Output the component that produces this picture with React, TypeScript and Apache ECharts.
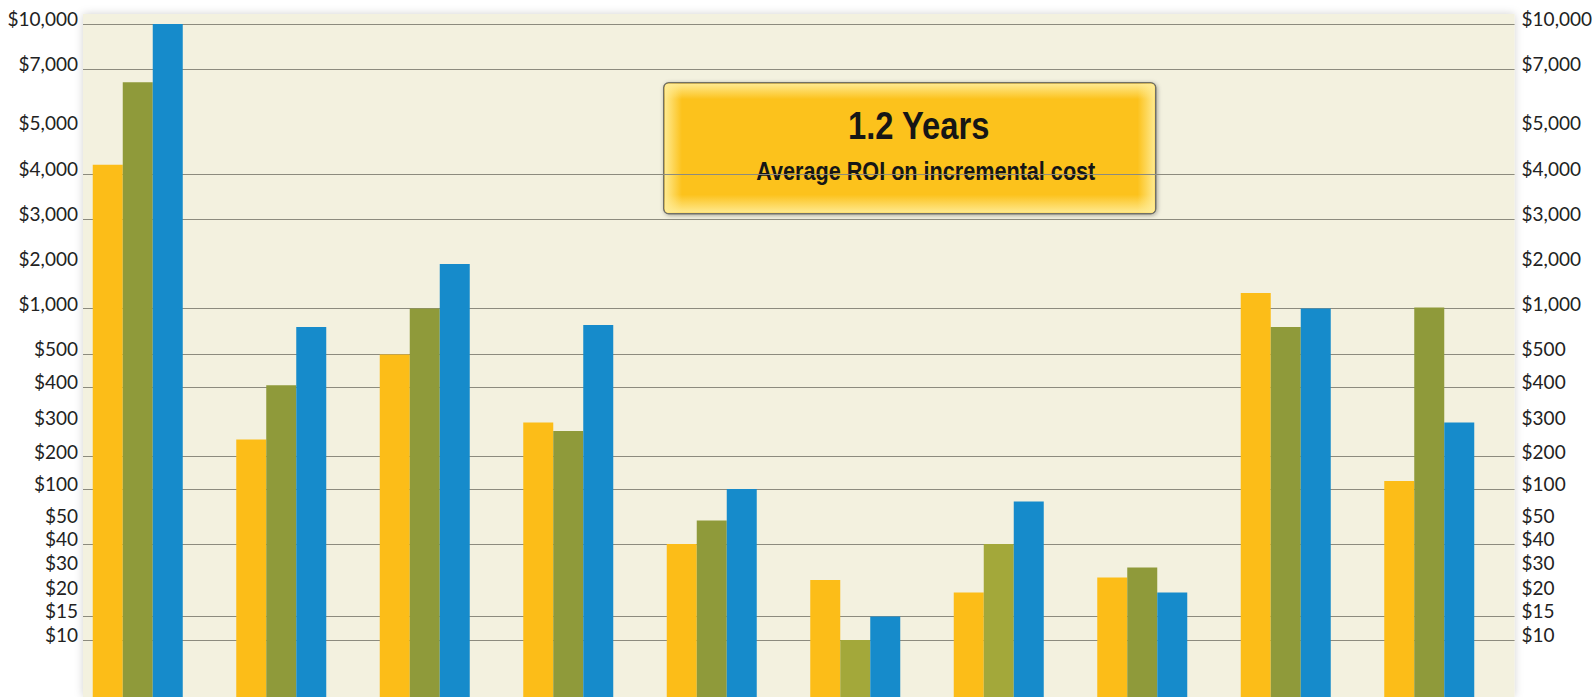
import { useEffect, useRef } from "react";
import * as echarts from "echarts";

// ---- Data ----
const CATEGORIES = ["Group 1", "Group 2", "Group 3", "Group 4", "Group 5", "Group 6", "Group 7", "Group 8", "Group 9", "Group 10"];
const SERIES_NAMES = ["Series A", "Series B", "Series C"];
const YELLOW_VALUES = [4200, 250, 500, 300, 40, 25, 20, 26, 1350, 125];
const GREEN_VALUES = [6550, 405, 1000, 275, 50, 10, 40, 30, 800, 1020];
const BLUE_VALUES = [10000, 800, 2000, 820, 100, 15, 80, 20, 1000, 300];
const LIGHT_GREEN_INDEXES = [5, 6];

// Tick values of the chart's non-uniform dollar scale, and where each sits on it (0..100 scale units)
const TICK_VALUES = [10, 15, 20, 30, 40, 50, 100, 200, 300, 400, 500, 1000, 2000, 3000, 4000, 5000, 7000, 10000];
const TICK_SCALE = [8.35, 11.79, 15.3, 18.96, 22.4, 25.84, 30.45, 35.21, 40.19, 45.39, 50.15, 56.88, 63.4, 69.99, 76.57, 83.31, 91.95, 98.54];
const GRIDLINE_VALUES = [10, 15, 40, 100, 200, 400, 500, 1000, 3000, 4000, 7000, 10000];

const BOX_TITLE = "1.2 Years";
const BOX_SUBTITLE = "Average ROI on incremental cost";

// piecewise-linear mapping of a dollar value onto the custom scale
function toScale(v: number): number {
  const vals = [0, ...TICK_VALUES];
  const pos = [0, ...TICK_SCALE];
  for (let i = 1; i < vals.length; i++) {
    if (v <= vals[i]) {
      const t = (v - vals[i - 1]) / (vals[i] - vals[i - 1]);
      return pos[i - 1] + t * (pos[i] - pos[i - 1]);
    }
  }
  return pos[pos.length - 1];
}

function labelFor(p: number): string {
  let best = 0;
  let bd = Infinity;
  TICK_SCALE.forEach((s, i) => {
    const d = Math.abs(s - p);
    if (d < bd) {
      bd = d;
      best = i;
    }
  });
  return "$" + TICK_VALUES[best].toLocaleString("en-US");
}

const YELLOW = "#FCBD18";
const GREEN = "#8F9A3A";
const LIGHT_GREEN = "#A3A83A";
const BLUE = "#168BCB";

export default function App() {
  const ref = useRef<HTMLDivElement>(null);
  useEffect(() => {
    if (!ref.current) return;
    const chart = echarts.init(ref.current, undefined, { renderer: "svg" });
    const labelPos = TICK_VALUES.map(toScale);
    const gridPos = GRIDLINE_VALUES.map(toScale);
    const labelStyle = {
      customValues: labelPos,
      formatter: (v: number) => labelFor(v),
      color: "#222",
      fontFamily: "Lato",
      fontSize: 19,
      lineHeight: 11,
      verticalAlign: "bottom",
    };
    const option: any = {
      animation: false,
      backgroundColor: "#ffffff",
      grid: [
        {
          left: 83,
          right: 79,
          top: 14,
          bottom: 0,
          show: true,
          backgroundColor: "#F3F1DF",
          borderWidth: 0,
          shadowBlur: 8,
          shadowColor: "rgba(0,0,0,0.18)",
        },
        { left: 66, right: 94, top: 14, bottom: 0 },
      ],
      xAxis: [
        { gridIndex: 0, type: "value", min: 0, max: 1, show: false },
        { gridIndex: 1, type: "category", data: CATEGORIES, show: false },
      ],
      yAxis: [
        {
          gridIndex: 0,
          type: "value",
          min: 0,
          max: 100,
          position: "left",
          axisLine: { show: false },
          axisTick: { show: false, customValues: gridPos },
          splitLine: { show: true, lineStyle: { color: "#8c8b7e", width: 1.2 } },
          axisLabel: { ...labelStyle, margin: 5 },
        },
        {
          gridIndex: 0,
          type: "value",
          min: 0,
          max: 100,
          position: "right",
          axisLine: { show: false },
          axisTick: { show: false, customValues: gridPos },
          splitLine: { show: false },
          axisLabel: { ...labelStyle, margin: 7 },
        },
        { gridIndex: 1, type: "value", min: 0, max: 100, show: false },
      ],
      series: [
        { type: "line", xAxisIndex: 0, yAxisIndex: 0, data: [], silent: true },
        {
          name: SERIES_NAMES[0],
          type: "bar",
          xAxisIndex: 1,
          yAxisIndex: 2,
          barWidth: 30,
          barGap: "0%",
          itemStyle: { color: YELLOW },
          data: YELLOW_VALUES.map(toScale),
        },
        {
          name: SERIES_NAMES[1],
          type: "bar",
          xAxisIndex: 1,
          yAxisIndex: 2,
          barWidth: 30,
          barGap: "0%",
          itemStyle: { color: GREEN },
          data: GREEN_VALUES.map((v, i) =>
            LIGHT_GREEN_INDEXES.includes(i) ? { value: toScale(v), itemStyle: { color: LIGHT_GREEN } } : toScale(v)
          ),
        },
        {
          name: SERIES_NAMES[2],
          type: "bar",
          xAxisIndex: 1,
          yAxisIndex: 2,
          barWidth: 30,
          barGap: "0%",
          itemStyle: { color: BLUE },
          data: BLUE_VALUES.map(toScale),
        },
      ],
      graphic: [
        {
          type: "group",
          left: 663,
          top: 82,
          z: 100,
          children: [
            {
              type: "rect",
              shape: { x: 0, y: 0, width: 492, height: 131, r: 5 },
              style: {
                fill: "#FCC21F",
                stroke: "#6f6f66",
                lineWidth: 1.5,
                shadowBlur: 4,
                shadowColor: "rgba(0,0,0,0.3)",
                shadowOffsetX: 1,
                shadowOffsetY: 1,
              },
            },
            {
              type: "rect",
              shape: { x: 1, y: 1, width: 490, height: 129, r: 4 },
              style: {
                fill: new echarts.graphic.LinearGradient(0, 0, 0, 1, [
                  { offset: 0, color: "rgba(255,236,150,0.95)" },
                  { offset: 0.12, color: "rgba(255,236,150,0)" },
                  { offset: 0.86, color: "rgba(255,236,150,0)" },
                  { offset: 1, color: "rgba(255,236,150,0.95)" },
                ]),
              },
            },
            {
              type: "rect",
              shape: { x: 1, y: 1, width: 490, height: 129, r: 4 },
              style: {
                fill: new echarts.graphic.LinearGradient(0, 0, 1, 0, [
                  { offset: 0, color: "rgba(255,236,150,0.95)" },
                  { offset: 0.035, color: "rgba(255,236,150,0)" },
                  { offset: 0.965, color: "rgba(255,236,150,0)" },
                  { offset: 1, color: "rgba(255,236,150,0.95)" },
                ]),
              },
            },
            {
              type: "text",
              x: 255,
              y: 43,
              scaleX: 0.84,
              style: {
                text: BOX_TITLE,
                x: 0,
                y: 0,
                align: "center",
                verticalAlign: "middle",
                fill: "#161616",
                fontFamily: "Liberation Sans",
                fontWeight: "bold",
                fontSize: 39,
              },
            },
            {
              type: "text",
              x: 262,
              y: 89,
              scaleX: 0.865,
              style: {
                text: BOX_SUBTITLE,
                x: 0,
                y: 0,
                align: "center",
                verticalAlign: "middle",
                fill: "#161616",
                fontFamily: "Liberation Sans",
                fontWeight: "bold",
                fontSize: 25,
              },
            },
          ],
        },
      ],
    };
    chart.setOption(option);
    return () => chart.dispose();
  }, []);
  return (
    <div
      ref={ref}
      style={{ position: "fixed", left: 0, top: 0, width: 1595, height: 697, background: "#fff" }}
    />
  );
}
